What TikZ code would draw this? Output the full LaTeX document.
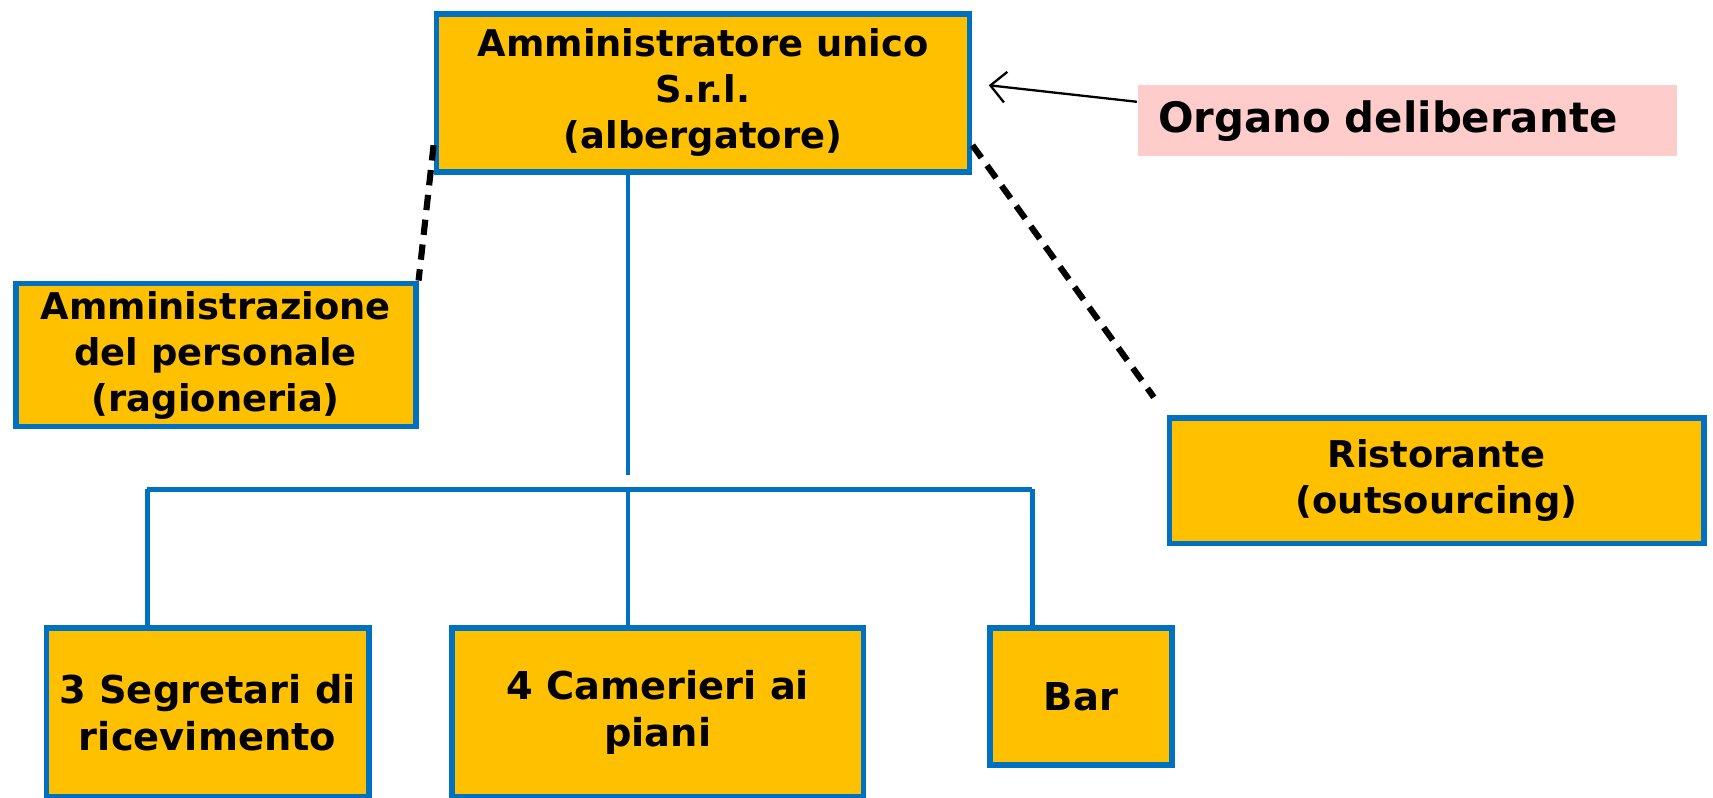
\documentclass[tikz,border=0pt]{standalone}
\usepackage{fontspec}
\setmainfont{DejaVu Sans}
\usetikzlibrary{arrows.meta}
\definecolor{orgblue}{HTML}{0070C0}
\definecolor{orggold}{HTML}{FFC000}
\definecolor{orgpink}{HTML}{FFCCCC}
\begin{document}
\begin{tikzpicture}[
	thick,
	font=\bfseries\fontsize{9.6}{12}\selectfont
]
\tikzset{
    unitbox/.style = {rectangle, draw=orgblue, line width=1.5pt, fill=orggold, align=center, inner sep=0pt},
    notebox/.style = {rectangle, fill=orgpink, align=left, inner sep=0pt, inner xsep=0.18cm, font=\bfseries\fontsize{10.9}{13}\selectfont},
    edgeb/.style = {-, line width=1.1pt, orgblue},
    edged/.style = {-, line width=1.6pt, black, dash pattern=on 4pt off 2.5pt},
    edgea/.style = {-{Straight Barb[length=4pt,width=8pt]}, line width=0.6pt, black},
}
\useasboundingbox (0,0) rectangle (15.68,7.30);
\node[unitbox, minimum width=4.88cm, minimum height=1.45cm] at (6.435, 6.45) (top) {Amministratore unico\\S.r.l.\\(albergatore)};
\node[unitbox, minimum width=3.66cm, minimum height=1.31cm] at (1.975, 4.05) (admin) {Amministrazione\\del personale\\(ragioneria)};
\node[unitbox, minimum width=4.89cm, minimum height=1.15cm] at (13.15, 2.90) (rist) {Ristorante\\(outsourcing)};
\node[notebox, text width=4.57cm, minimum height=0.65cm] at (12.885, 6.195) (org) {Organo deliberante};
%
\node[unitbox, minimum width=2.95cm, minimum height=1.55cm, font=\bfseries\fontsize{10}{12.2}\selectfont] at (1.90, 0.78) (seg) {3 Segretari di\\ricevimento};
\node[unitbox, minimum width=3.77cm, minimum height=1.55cm, font=\bfseries\fontsize{10}{12.2}\selectfont] at (6.02, 0.78) (cam) {4 Camerieri ai\\piani};
\node[unitbox, minimum width=1.66cm, minimum height=1.26cm, font=\bfseries\fontsize{10}{12.2}\selectfont] at (9.895, 0.925) (bar) {Bar};
%
\coordinate (trunk) at (5.75, 2.95);
\coordinate (busl) at (1.35, 2.82);
\coordinate (busm) at (5.75, 2.82);
\coordinate (busr) at (9.45, 2.82);
%
\draw[edgeb] (trunk |- top.south) -- (trunk);
\draw[edgeb] (busl) -- (busr);
\draw[edgeb] (busl) -- (busl |- seg.north);
\draw[edgeb] (busm) -- (busm |- cam.north);
\draw[edgeb] (busr) -- (busr |- bar.north);
%
\draw[edged] (top.191) -- (admin.north east);
\draw[edged, shorten >=0.2cm] (top.349) -- (rist.north west);
\draw[edgea, shorten >=0.15cm] (org.176) -- (top.2);
\end{tikzpicture}
\end{document}
